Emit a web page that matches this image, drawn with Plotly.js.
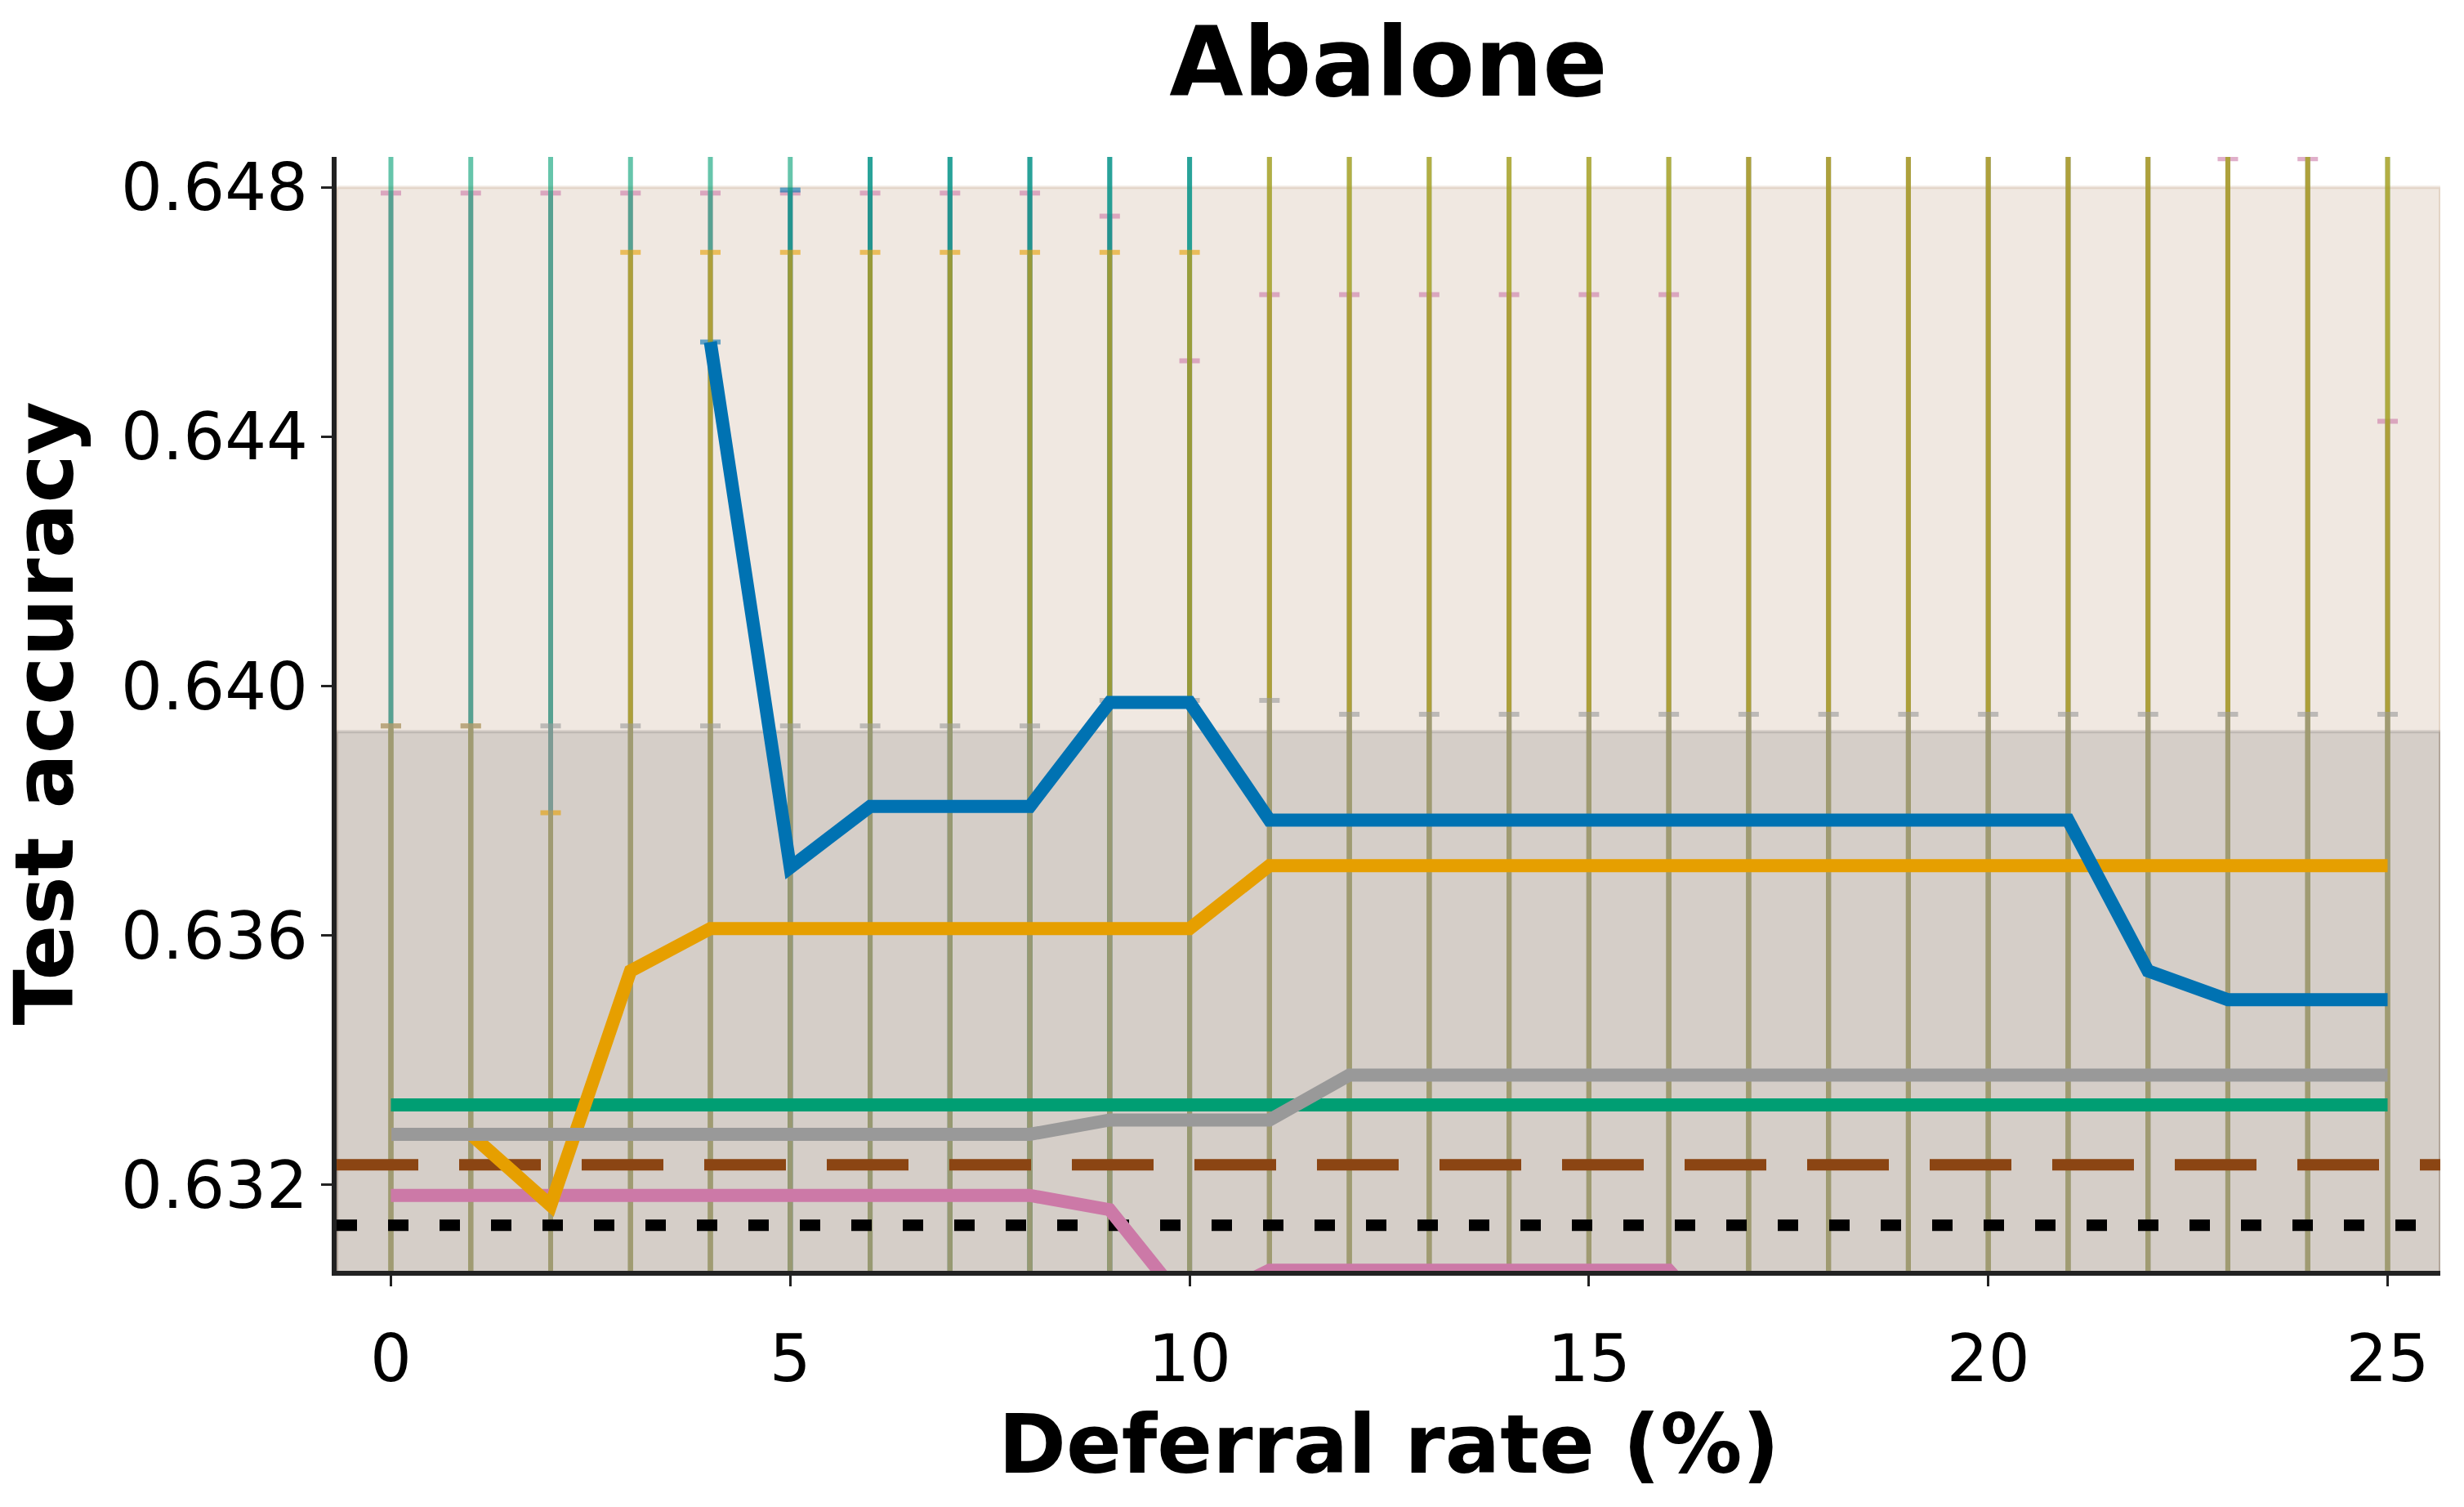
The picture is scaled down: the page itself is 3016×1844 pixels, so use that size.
<!DOCTYPE html>
<html>
<head>
<meta charset="utf-8">
<script src="https://cdn.plot.ly/plotly-3.0.1.min.js"></script>
<style>html,body{margin:0;padding:0;background:#ffffff;}</style>
</head>
<body>
<div id="chart" style="width:3016px;height:1844px"></div>
<script>
// ---------------- data ----------------
const deferralRate = [0,1,2,3,4,5,6,7,8,9,10,11,12,13,14,15,16,17,18,19,20,21,22,23,24,25];

const blueAcc   = [null,null,null,null,0.64552,0.63709,0.63807,0.63807,0.63807,0.63974,0.63974,
                   0.63785,0.63785,0.63785,0.63785,0.63785,0.63785,0.63785,0.63785,0.63785,0.63785,0.63785,
                   0.63543,0.63497,0.63497,0.63497];
const blueErr   = [null,null,null,null,0.0,0.01087,0.0115,0.0115,0.0115,0.0100,0.0100,
                   null,null,null,null,null,null,null,null,null,null,null,null,null,null,null];

const orangeAcc = [0.63281,0.63281,0.63167,0.63543,0.63611,0.63611,0.63611,0.63611,0.63611,0.63611,0.63611,
                   0.63712,0.63712,0.63712,0.63712,0.63712,0.63712,0.63712,0.63712,0.63712,0.63712,0.63712,
                   0.63712,0.63712,0.63712,0.63712];
const orangeErr = [0.00655,0.00655,0.0063,0.01153,0.01085,0.01085,0.01085,0.01085,0.01085,0.01085,0.01085,
                   0.0125,0.0125,0.0125,0.0125,0.0125,0.0125,0.0125,0.0125,0.0125,0.0125,0.0125,
                   0.0125,0.0125,0.0125,0.0125];

const greenAcc  = [0.63328,0.63328,0.63328,0.63328,0.63328,0.63328,0.63328,0.63328,0.63328,0.63328,0.63328,
                   0.63328,0.63328,0.63328,0.63328,0.63328,0.63328,0.63328,0.63328,0.63328,0.63328,0.63328,
                   0.63328,0.63328,0.63328,0.63328];
const greenErr  = [0.017,0.017,0.017,0.017,0.017,0.017,0.017,0.017,0.017,0.017,0.017,0.017,0.017,
                   0.017,0.017,0.017,0.017,0.017,0.017,0.017,0.017,0.017,0.017,0.017,0.017,0.017];

const grayAcc   = [0.63281,0.63281,0.63281,0.63281,0.63281,0.63281,0.63281,0.63281,0.63281,
                   0.63304,0.63304,0.63304,
                   0.63376,0.63376,0.63376,0.63376,0.63376,0.63376,0.63376,0.63376,0.63376,0.63376,
                   0.63376,0.63376,0.63376,0.63376];
const grayErr   = [0.00655,0.00655,0.00655,0.00655,0.00655,0.00655,0.00655,0.00655,0.00655,
                   0.00673,0.00673,0.00673,
                   0.00579,0.00579,0.00579,0.00579,0.00579,0.00579,0.00579,0.00579,0.00579,0.00579,
                   0.00579,0.00579,0.00579,0.00579];

const pinkAcc   = [0.63183,0.63183,0.63183,0.63183,0.63183,0.63183,0.63183,0.63183,0.63183,
                   0.63160,0.63000,
                   0.63063,0.63063,0.63063,0.63063,0.63063,0.63063,
                   0.62920,0.62920,0.62920,0.62920,0.62920,0.62920,0.62920,0.62920,0.62920];
const pinkErr   = [0.01608,0.01608,0.01608,0.01608,0.01608,0.01608,0.01608,0.01608,0.01608,
                   0.01594,0.01522,
                   0.01565,0.01565,0.01565,0.01565,0.01565,0.01565,
                   0.0200,0.0200,0.0200,0.0200,0.0200,0.0200,0.01926,0.01926,0.01505];

// reference (horizontal) baselines: mean and spread
const brownRefMean = 0.63232, brownRefStd = 0.01568;
const blackRefMean = 0.63135, blackRefStd = 0.00792;

const xRange = [-0.68, 25.66];
const yRange = [0.63062, 0.64849];
const yTicks = [0.632, 0.636, 0.640, 0.644, 0.648];
const xTicks = [0, 5, 10, 15, 20, 25];

const chartTitle  = 'Abalone';
const xAxisTitle  = 'Deferral rate (%)';
const yAxisTitle  = 'Test accuracy';

// ---------------- styling ----------------
const C = {
  blue:'#0072B2', orange:'#E69F00', green:'#009E73', gray:'#999999', pink:'#CC79A7',
  brown:'#8B4513', black:'#000000'
};
const errAlpha = 0.6;
function rgba(hex, a){
  const n = parseInt(hex.slice(1),16);
  return `rgba(${(n>>16)&255},${(n>>8)&255},${n&255},${a})`;
}
const FONT = 'DejaVu Sans, Verdana, sans-serif';
const LW = 16;

function errTrace(y, e, color){
  // only points that actually carry an error value get an error bar
  const yy = y.map((v, i) => (e[i] === null || e[i] === undefined) ? null : v);
  return {
    type:'scatter', mode:'markers', x:deferralRate, y:yy,
    marker:{size:1, opacity:0, color:color},
    error_y:{type:'data', array:e, symmetric:true, visible:true,
             color:rgba(color, errAlpha), thickness:6, width:12.5},
    hoverinfo:'skip', showlegend:false
  };
}
function lineTrace(y, color){
  return {
    type:'scatter', mode:'lines', x:deferralRate, y:y,
    line:{color:color, width:LW}, connectgaps:false,
    hoverinfo:'skip', showlegend:false
  };
}
function refTrace(v, color, dash, width){
  return {
    type:'scatter', mode:'lines', x:xRange, y:xRange.map(() => v),
    line:{color:color, width:width, dash:dash},
    hoverinfo:'skip', showlegend:false
  };
}

const traces = [
  errTrace(pinkAcc, pinkErr, C.pink),
  errTrace(blueAcc, blueErr, C.blue),
  errTrace(greenAcc, greenErr, C.green),
  errTrace(orangeAcc, orangeErr, C.orange),
  errTrace(grayAcc, grayErr, C.gray),
  refTrace(brownRefMean, C.brown, '100px,50px', 14),
  refTrace(blackRefMean, C.black, '25px,38px', 14),
  lineTrace(pinkAcc, C.pink),
  lineTrace(greenAcc, C.green),
  lineTrace(orangeAcc, C.orange),
  lineTrace(grayAcc, C.gray),
  lineTrace(blueAcc, C.blue)
];

const shapes = [
  {type:'rect', xref:'x', yref:'y', layer:'below',
   x0:xRange[0], x1:xRange[1], y0:brownRefMean-brownRefStd, y1:brownRefMean+brownRefStd,
   fillcolor:rgba(C.brown,0.125), line:{color:rgba(C.brown,0.125), width:4}},
  {type:'rect', xref:'x', yref:'y', layer:'below',
   x0:xRange[0], x1:xRange[1], y0:blackRefMean-blackRefStd, y1:blackRefMean+blackRefStd,
   fillcolor:rgba(C.black,0.11), line:{color:rgba(C.black,0.11), width:4}}
];

const axisTitleFont = {family:FONT, size:100, weight:'bold', color:'#000000'};
const annotations = [
  {text:xAxisTitle, xref:'paper', yref:'paper', x:0.5, y:0, xanchor:'center', yanchor:'middle',
   yshift:-212, showarrow:false, borderpad:0, font:axisTitleFont},
  {text:yAxisTitle, xref:'paper', yref:'paper', x:0, y:0.5, xanchor:'center', yanchor:'middle',
   xshift:-358, textangle:-90, showarrow:false, borderpad:0, font:axisTitleFont}
];

const layout = {
  width:3016, height:1844,
  margin:{l:412, r:29, t:192, b:289, pad:0},
  paper_bgcolor:'#ffffff', plot_bgcolor:'#ffffff',
  showlegend:false,
  font:{family:FONT, color:'#000000'},
  title:{text:chartTitle, x:0.5, xref:'paper', xanchor:'center',
         y:1-76/1844, yref:'container', yanchor:'middle',
         font:{family:FONT, size:117, weight:'bold', color:'#000000'}},
  xaxis:{range:xRange, tickvals:xTicks, ticks:'outside', ticklen:13, tickwidth:3, tickcolor:'#222222',
         showline:true, linewidth:6, linecolor:'#222222', showgrid:false, zeroline:false,
         ticklabelstandoff:20,
         tickfont:{family:FONT, size:80, color:'#000000'},
         title:{text:''}},
  yaxis:{range:yRange, tickvals:yTicks, tickformat:'.3f', ticks:'outside', ticklen:13, tickwidth:3,
         tickcolor:'#222222', showline:true, linewidth:6, linecolor:'#222222', showgrid:false, zeroline:false,
         tickfont:{family:FONT, size:80, color:'#000000'},
         title:{text:''}},
  shapes:shapes,
  annotations:annotations
};

Plotly.newPlot('chart', traces, layout, {staticPlot:true, displayModeBar:false});
</script>
</body>
</html>
